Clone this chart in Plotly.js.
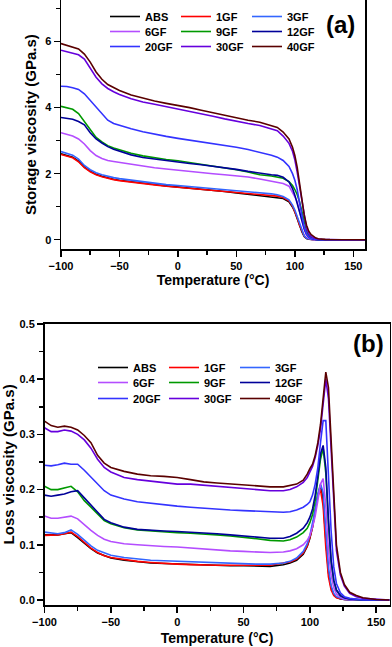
<!DOCTYPE html>
<html>
<head>
<meta charset="utf-8">
<script src="https://cdn.plot.ly/plotly-3.0.1.min.js"></script>
<style>html,body{margin:0;padding:0;background:#fff;}#chart{width:392px;height:647px;}</style>
</head>
<body>
<div id="chart"></div>
<script>
// Temperature grid (°C)
const temperature = [-100,-95,-90,-85,-80,-75,-70,-65,-60,-55,-50,
  -40,-30,-20,-10,0,10,20,30,40,50,60,
  70,80,85,90,95,98,
  100,102,104,106,108,110,112,114,
  116,118,120,123,126,130,135,140,150,160];

const seriesNames = ['ABS','1GF','3GF','6GF','9GF','12GF','20GF','30GF','40GF'];
const seriesColors = ['#000000','#ff0000','#3366ff','#b44dff','#009900','#000099','#3333ff','#6600dd','#5a0000'];

// (a) Storage viscosity (GPa.s)
const storageABS  = [2.60,2.55,2.50,2.38,2.20,2.08,1.98,1.92,1.87,1.83,1.80, 1.75,1.71,1.67,1.63,1.60,1.57,1.54,1.50,1.46,1.42,1.38, 1.33,1.31,1.29,1.25,1.15,0.99, 0.84,0.64,0.43,0.24,0.10,0.035,0.012,0.004, 0,0,0,0,0,0,0,0,0,0];
const storage1GF  = [2.58,2.53,2.48,2.36,2.18,2.06,1.97,1.91,1.86,1.82,1.79, 1.74,1.70,1.66,1.62,1.59,1.56,1.53,1.50,1.47,1.44,1.41, 1.37,1.35,1.32,1.28,1.18,1.02, 0.87,0.67,0.45,0.26,0.11,0.04,0.013,0.005, 0,0,0,0,0,0,0,0,0,0];
const storage3GF  = [2.67,2.62,2.56,2.44,2.25,2.12,2.03,1.97,1.92,1.88,1.85, 1.80,1.76,1.71,1.67,1.64,1.61,1.58,1.55,1.52,1.49,1.45, 1.41,1.39,1.36,1.31,1.21,1.05, 0.90,0.70,0.48,0.28,0.12,0.045,0.015,0.005, 0,0,0,0,0,0,0,0,0,0];
const storage6GF  = [3.24,3.20,3.14,3.05,2.90,2.70,2.55,2.46,2.40,2.37,2.34, 2.28,2.23,2.18,2.14,2.10,2.07,2.04,2.00,1.97,1.94,1.90, 1.84,1.78,1.75,1.70,1.62,1.45, 1.30,1.15,0.90,0.58,0.30,0.13,0.05,0.02, 0.008,0.003,0,0,0,0,0,0,0,0];
const storage9GF  = [4.04,4.00,3.95,3.82,3.58,3.31,3.10,2.96,2.85,2.78,2.72, 2.62,2.54,2.48,2.43,2.39,2.34,2.29,2.24,2.18,2.12,2.05, 1.97,1.93,1.90,1.86,1.76,1.64, 1.52,1.37,1.15,0.86,0.53,0.28,0.13,0.06, 0.025,0.01,0.004,0.001,0,0,0,0,0,0];
const storage12GF = [3.70,3.68,3.65,3.58,3.48,3.24,3.05,2.93,2.82,2.74,2.68, 2.57,2.49,2.44,2.39,2.35,2.31,2.27,2.23,2.18,2.13,2.07, 2.01,1.97,1.95,1.89,1.75,1.55, 1.35,1.10,0.84,0.57,0.34,0.17,0.08,0.035, 0.015,0.006,0.002,0,0,0,0,0,0,0];
const storage20GF = [4.65,4.64,4.60,4.55,4.42,4.22,4.05,3.85,3.62,3.52,3.46, 3.36,3.27,3.19,3.13,3.07,3.02,2.96,2.91,2.86,2.80,2.73, 2.65,2.56,2.50,2.40,2.22,2.00, 1.80,1.52,1.12,0.70,0.38,0.17,0.08,0.035, 0.015,0.006,0.002,0,0,0,0,0,0,0];
const storage30GF = [5.74,5.70,5.66,5.60,5.47,5.18,4.92,4.72,4.58,4.48,4.40, 4.27,4.17,4.10,4.03,3.97,3.90,3.82,3.74,3.66,3.58,3.52, 3.46,3.36,3.30,3.14,2.92,2.68, 2.42,2.05,1.60,1.15,0.68,0.35,0.18,0.10, 0.06,0.035,0.02,0.01,0.005,0.002,0,0,0,0];
const storage40GF = [5.94,5.88,5.83,5.78,5.62,5.38,5.08,4.86,4.70,4.60,4.52, 4.38,4.28,4.20,4.13,4.07,4.00,3.92,3.84,3.76,3.68,3.62, 3.56,3.46,3.40,3.26,3.05,2.80, 2.55,2.20,1.72,1.25,0.75,0.44,0.25,0.15, 0.09,0.05,0.03,0.015,0.01,0.005,0.002,0,0,0];

// (b) Loss viscosity (GPa.s)
const lossABS  = [0.118,0.118,0.118,0.120,0.122,0.113,0.103,0.093,0.085,0.080,0.076, 0.072,0.069,0.067,0.066,0.065,0.064,0.063,0.062,0.062,0.062,0.061, 0.061,0.064,0.067,0.072,0.083,0.097, 0.112,0.132,0.158,0.190,0.208,0.180,0.110,0.050, 0.022,0.010,0.005,0.002,0.001,0,0,0,0,0];
const loss1GF  = [0.117,0.117,0.118,0.120,0.123,0.115,0.104,0.094,0.086,0.080,0.077, 0.073,0.070,0.068,0.066,0.065,0.064,0.063,0.063,0.063,0.063,0.063, 0.063,0.067,0.069,0.074,0.085,0.098, 0.113,0.133,0.160,0.188,0.200,0.170,0.095,0.042, 0.018,0.008,0.004,0.002,0.001,0,0,0,0,0];
const loss3GF  = [0.123,0.121,0.120,0.122,0.127,0.119,0.108,0.098,0.090,0.085,0.081, 0.077,0.074,0.072,0.071,0.070,0.069,0.068,0.067,0.066,0.065,0.065, 0.065,0.067,0.070,0.076,0.088,0.102, 0.117,0.138,0.163,0.192,0.210,0.195,0.125,0.058, 0.026,0.012,0.006,0.003,0.001,0,0,0,0,0];
const loss6GF  = [0.152,0.148,0.148,0.150,0.152,0.147,0.136,0.126,0.117,0.110,0.106, 0.102,0.100,0.098,0.097,0.096,0.094,0.092,0.091,0.089,0.088,0.087, 0.086,0.087,0.089,0.093,0.100,0.108, 0.117,0.132,0.152,0.180,0.210,0.220,0.170,0.090, 0.045,0.022,0.011,0.005,0.002,0.001,0,0,0,0];
const loss9GF  = [0.206,0.200,0.200,0.203,0.206,0.196,0.180,0.168,0.155,0.144,0.138, 0.131,0.127,0.125,0.124,0.122,0.121,0.120,0.118,0.116,0.114,0.111, 0.108,0.107,0.109,0.114,0.122,0.130, 0.140,0.155,0.180,0.215,0.255,0.275,0.230,0.140, 0.070,0.035,0.018,0.008,0.004,0.002,0.001,0,0,0];
const loss12GF = [0.190,0.188,0.190,0.192,0.196,0.198,0.185,0.172,0.158,0.146,0.140, 0.132,0.128,0.126,0.125,0.124,0.123,0.122,0.120,0.118,0.116,0.114, 0.112,0.112,0.115,0.121,0.130,0.140, 0.150,0.165,0.190,0.225,0.265,0.280,0.240,0.145, 0.072,0.036,0.018,0.008,0.004,0.002,0.001,0,0,0];
const loss20GF = [0.244,0.243,0.245,0.248,0.246,0.246,0.235,0.222,0.209,0.198,0.190, 0.183,0.178,0.175,0.172,0.170,0.168,0.166,0.165,0.163,0.162,0.161, 0.159,0.159,0.160,0.163,0.168,0.173, 0.178,0.190,0.210,0.240,0.285,0.325,0.325,0.230, 0.125,0.060,0.030,0.013,0.006,0.003,0.001,0,0,0];
const loss30GF = [0.312,0.305,0.305,0.308,0.306,0.300,0.290,0.275,0.255,0.240,0.232, 0.222,0.218,0.215,0.212,0.210,0.210,0.208,0.206,0.204,0.202,0.200, 0.198,0.198,0.200,0.205,0.213,0.222, 0.232,0.242,0.258,0.280,0.310,0.355,0.400,0.365, 0.270,0.170,0.090,0.045,0.025,0.012,0.006,0.003,0.001,0];
const loss40GF = [0.324,0.316,0.313,0.315,0.313,0.308,0.298,0.285,0.262,0.248,0.240, 0.233,0.228,0.225,0.224,0.222,0.218,0.214,0.212,0.210,0.208,0.207, 0.205,0.205,0.207,0.210,0.217,0.228, 0.238,0.246,0.262,0.285,0.318,0.360,0.413,0.385, 0.290,0.190,0.100,0.050,0.028,0.014,0.008,0.004,0.001,0];

const storageSeries = [storageABS,storage1GF,storage3GF,storage6GF,storage9GF,storage12GF,storage20GF,storage30GF,storage40GF];
const lossSeries = [lossABS,loss1GF,loss3GF,loss6GF,loss9GF,loss12GF,loss20GF,loss30GF,loss40GF];

const FONT = 'Arial, "Liberation Sans", sans-serif';
const traces = [];
function addTraces(series, xa, ya, firstLegend) {
  seriesNames.forEach((name, i) => {
    const row = Math.floor(i / 3);
    const n = firstLegend + row;
    const tr = {x: temperature, y: series[i], xaxis: xa, yaxis: ya, type: 'scatter', mode: 'lines',
      name: name, line: {color: seriesColors[i], width: 1.6}, legend: n === 1 ? 'legend' : 'legend' + n};
    if (i % 3 === 2) tr.legendwidth = 40;
    traces.push(tr);
  });
}
addTraces(storageSeries, 'x', 'y', 1);
addTraces(lossSeries, 'x2', 'y2', 4);

function axisBase(extra) {
  return Object.assign({
    showline: true, linecolor: '#000', linewidth: 1.5,
    ticks: 'outside', ticklen: 6, tickwidth: 1.5, tickcolor: '#000',
    showgrid: false, zeroline: false,
    tickfont: {family: FONT, size: 11, color: '#000', weight: 'bold'}
  }, extra);
}
const xTitleFont = {family: FONT, size: 14, color: '#000', weight: 'bold'};
const yTitleFont = {family: FONT, size: 15, color: '#000', weight: 'bold'};

function legendRow(xpx, ypx) {
  return {
    orientation: 'h', x: xpx / 392, y: 1 - ypx / 647, xanchor: 'left', yanchor: 'top',
    entrywidth: 26, entrywidthmode: 'pixels', bgcolor: 'rgba(0,0,0,0)', borderwidth: 0,
    font: {family: FONT, size: 11, color: '#000', weight: 'bold'}, traceorder: 'normal'
  };
}

const layout = {
  width: 392, height: 647,
  margin: {l: 0, r: 0, t: 0, b: 0},
  paper_bgcolor: '#fff', plot_bgcolor: '#fff',
  showlegend: true,
  font: {family: FONT, size: 11, color: '#000', weight: 'bold'},
  xaxis: axisBase({domain: [61/392, 365/392], range: [-100, 160], anchor: 'y', mirror: false,
    dtick: 50, tick0: 0, minor: {ticks: 'outside', ticklen: 4, tickwidth: 1.5, tickcolor: '#000', dtick: 25},
    title: {text: 'Temperature (°C)', font: xTitleFont, standoff: 4}}),
  yaxis: axisBase({domain: [1 - 249.3/647, 1], range: [-0.29, 7.26], anchor: 'x', mirror: true,
    dtick: 2, tick0: 0, minor: {ticks: 'outside', ticklen: 4, tickwidth: 1.5, tickcolor: '#000', dtick: 1},
    title: {text: 'Storage viscosity (GPa.s)', font: yTitleFont, standoff: 5}}),
  xaxis2: axisBase({domain: [44.5/392, 389.5/392], range: [-100, 160], anchor: 'y2', mirror: true,
    dtick: 50, tick0: 0, minor: {ticks: 'outside', ticklen: 4, tickwidth: 1.5, tickcolor: '#000', dtick: 25},
    title: {text: 'Temperature (°C)', font: xTitleFont, standoff: 6}}),
  yaxis2: axisBase({domain: [1 - 605.3/647, 1 - 323.5/647], range: [-0.0096, 0.5009], anchor: 'x2', mirror: true,
    dtick: 0.1, tick0: 0, tickformat: '.1f', minor: {ticks: 'outside', ticklen: 4, tickwidth: 1.5, tickcolor: '#000', dtick: 0.05},
    title: {text: 'Loss viscosity (GPa.s)', font: yTitleFont, standoff: 3}}),
  legend: legendRow(105, 2),
  legend2: legendRow(105, 17),
  legend3: legendRow(105, 32),
  legend4: legendRow(93, 353),
  legend5: legendRow(93, 368),
  legend6: legendRow(93, 384),
  annotations: [
    {xref: 'paper', yref: 'paper', x: 340/392, y: 1 - 25/647, text: '(a)', showarrow: false,
      xanchor: 'center', yanchor: 'middle', font: {family: FONT, size: 24, color: '#000', weight: 'bold'}},
    {xref: 'paper', yref: 'paper', x: 368/392, y: 1 - 343/647, text: '(b)', showarrow: false,
      xanchor: 'center', yanchor: 'middle', font: {family: FONT, size: 24, color: '#000', weight: 'bold'}}
  ]
};

Plotly.newPlot('chart', traces, layout, {staticPlot: true, displayModeBar: false});
</script>
</body>
</html>
